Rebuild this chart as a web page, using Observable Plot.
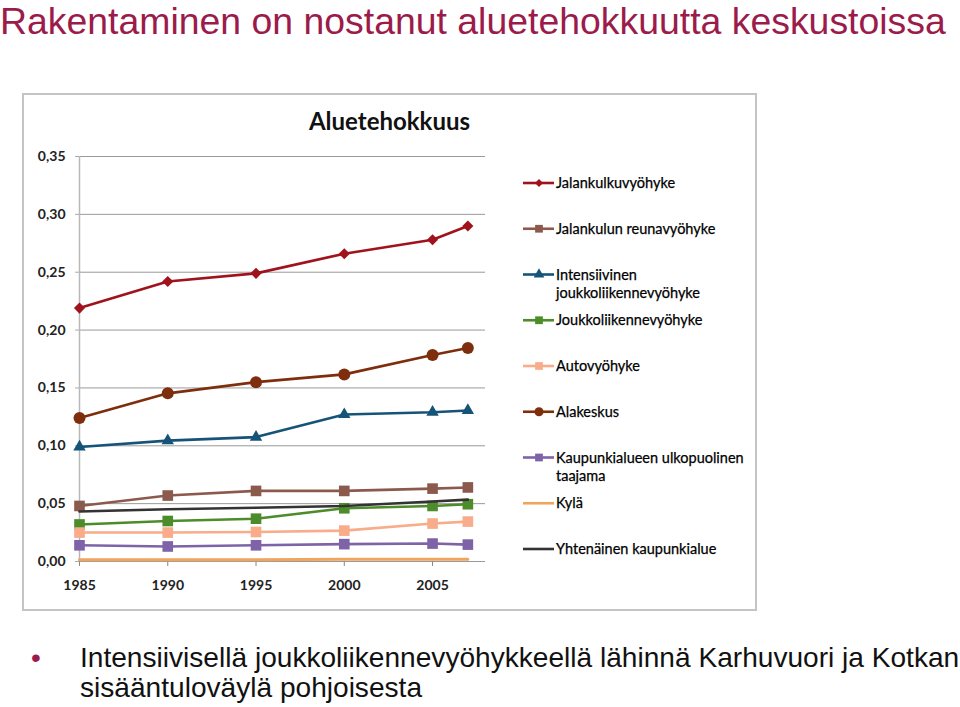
<!DOCTYPE html>
<html>
<head>
<meta charset="utf-8">
<script src="https://cdn.jsdelivr.net/npm/d3@7"></script>
<script src="https://cdn.jsdelivr.net/npm/@observablehq/plot@0.6"></script>
<style>
  body { margin: 0; background: #fff; }
  #page { position: relative; width: 960px; height: 707px; overflow: hidden; font-family: "Liberation Sans", Arial, sans-serif; }
  #box { position: absolute; left: 22px; top: 93px; width: 731px; height: 514px; border: 2px solid #c4c4c4; background: #fff; }
  #box svg { display: block; }
  #overlay { position: absolute; left: 0; top: 0; pointer-events: none; }
</style>
</head>
<body>
<div id="page">
  <div id="box"></div>
</div>
<script>
// ---- data ----
const years = [1985, 1990, 1995, 2000, 2005, 2007];
const jalankulkuvyohyke = [0.219, 0.242, 0.249, 0.266, 0.278, 0.290];
const jalankulunReunavyohyke = [0.048, 0.057, 0.061, 0.061, 0.063, 0.064];
const intensiivinenJoukkoliikenne = [0.099, 0.1045, 0.1075, 0.127, 0.129, 0.1305];
const joukkoliikennevyohyke = [0.032, 0.035, 0.037, 0.046, 0.048, 0.0495];
const autovyohyke = [0.025, 0.025, 0.0255, 0.0267, 0.0328, 0.0345];
const alakeskus = [0.124, 0.1453, 0.155, 0.1617, 0.1785, 0.1845];
const ulkopuolinenTaajama = [0.014, 0.013, 0.014, 0.015, 0.0155, 0.0146];
const kyla = [0.0015, 0.0015, 0.0015, 0.002, 0.002, 0.002];
const yhtenainenKaupunkialue = [0.0432, 0.0452, 0.0464, 0.048, 0.0518, 0.0535];

const seriesNames = [
  "Jalankulkuvyöhyke",
  "Jalankulun reunavyöhyke",
  "Intensiivinen joukkoliikennevyöhyke",
  "Joukkoliikennevyöhyke",
  "Autovyöhyke",
  "Alakeskus",
  "Kaupunkialueen ulkopuolinen taajama",
  "Kylä",
  "Yhtenäinen kaupunkialue"
];
const seriesValues = [
  jalankulkuvyohyke, jalankulunReunavyohyke, intensiivinenJoukkoliikenne,
  joukkoliikennevyohyke, autovyohyke, alakeskus, ulkopuolinenTaajama, kyla,
  yhtenainenKaupunkialue
];
const legendLines = [
  ["Jalankulkuvyöhyke"],
  ["Jalankulun reunavyöhyke"],
  ["Intensiivinen", "joukkoliikennevyöhyke"],
  ["Joukkoliikennevyöhyke"],
  ["Autovyöhyke"],
  ["Alakeskus"],
  ["Kaupunkialueen ulkopuolinen", "taajama"],
  ["Kylä"],
  ["Yhtenäinen kaupunkialue"]
];
const xTicks = [1985, 1990, 1995, 2000, 2005];
const yTicks = [0, 0.05, 0.10, 0.15, 0.20, 0.25, 0.30, 0.35];

const pageTitle = "Rakentaminen on nostanut aluetehokkuutta keskustoissa";
const chartTitle = "Aluetehokkuus";
const bulletLines = [
  "Intensiivisellä joukkoliikennevyöhykkeellä lähinnä Karhuvuori ja Kotkan",
  "sisääntuloväylä pohjoisesta"
];

// ---- styles per series ----
const styles = [
  {color: "#A0121C", symbol: "diamond2", r: 5.0, lsize: 40},
  {color: "#8C5A4C", symbol: "square",   r: 6.0, lsize: 60},
  {color: "#165379", symbol: "triangle", r: 4.6, lsize: 50},
  {color: "#4D8C2A", symbol: "square",   r: 6.0, lsize: 60},
  {color: "#F8AC8A", symbol: "square",   r: 6.0, lsize: 60},
  {color: "#7E2E0C", symbol: "circle",   r: 6.0, lsize: 64},
  {color: "#7E63A8", symbol: "square",   r: 6.0, lsize: 60},
  {color: "#F0A45C", symbol: null,       r: 0,   lsize: 0},
  {color: "#333333", symbol: null,       r: 0,   lsize: 0}
];

const rows = seriesNames.flatMap((name, i) =>
  years.map((year, j) => ({series: name, idx: i, year, value: seriesValues[i][j]})));

const fmt = d => d.toFixed(2).replace(".", ",");

const marks = [
  Plot.gridY(yTicks.slice(1), {stroke: "#9a9a9a", strokeOpacity: 1, strokeWidth: 1}),
  Plot.ruleX([1985], {stroke: "#b8b8b8", strokeWidth: 1.5}),
  Plot.ruleY([0], {stroke: "#9a9a9a", strokeWidth: 1.2}),
  Plot.axisY({ticks: yTicks, tickFormat: fmt, tickSize: 4, tickPadding: 10, stroke: "#aaa",
              fill: "#222", fontSize: 14, fontWeight: "bold", fontFamily: "Lato", label: null}),
  Plot.axisX({ticks: xTicks, tickFormat: d => String(d), tickSize: 5, tickPadding: 14, stroke: "#888",
              fill: "#222", fontSize: 14, fontWeight: "bold", fontFamily: "Lato", label: null})
];
seriesNames.forEach((name, i) => {
  const st = styles[i];
  const data = rows.filter(d => d.idx === i);
  marks.push(Plot.line(data, {x: "year", y: "value", stroke: st.color, strokeWidth: i === 7 ? 3 : 2.6}));
  if (st.symbol) {
    marks.push(Plot.dot(data, {x: "year", y: "value", fill: st.color, stroke: "none", symbol: st.symbol, r: st.r}));
  }
});

const chart = Plot.plot({
  width: 731,
  height: 514,
  marginLeft: 55,
  marginRight: 270,
  marginTop: 61,
  marginBottom: 48,
  x: {domain: [1985, 2008]},
  y: {domain: [0, 0.35]},
  style: {background: "transparent", overflow: "visible"},
  marks
});
document.getElementById("box").appendChild(chart);

// ---- overlay text: titles, legend, bullet text ----
const ov = d3.select("#page").append("svg").attr("id", "overlay")
  .attr("width", 960).attr("height", 707);

ov.append("text").attr("x", 0).attr("y", 34)
  .attr("font-family", "Liberation Sans, Arial, sans-serif").attr("font-size", 37.4)
  .attr("fill", "#9B1B4B").text(pageTitle);

ov.append("text").attr("x", 389.5).attr("y", 130).attr("text-anchor", "middle")
  .attr("font-family", "Lato").attr("font-weight", "bold").attr("font-size", 24)
  .attr("fill", "#111").text(chartTitle);

// legend
const symMap = {diamond2: d3.symbolDiamond2, square: d3.symbolSquare, triangle: d3.symbolTriangle, circle: d3.symbolCircle};
const legendTop = 183, legendStep = 45.75;
legendLines.forEach((lines, i) => {
  const cy = legendTop + i * legendStep;
  const st = styles[i];
  const g = ov.append("g");
  g.append("line").attr("x1", 523).attr("x2", 554).attr("y1", cy).attr("y2", cy)
    .attr("stroke", st.color).attr("stroke-width", 2.6);
  if (st.symbol) {
    g.append("path").attr("d", d3.symbol(symMap[st.symbol], st.lsize)())
      .attr("transform", `translate(539,${cy})`).attr("fill", st.color);
  }
  lines.forEach((t, k) => {
    g.append("text").attr("x", 556).attr("y", cy + 5 + k * 18.5)
      .attr("font-family", "Lato").attr("font-size", 14.5).attr("fill", "#000")
      .attr("stroke", "#000").attr("stroke-width", 0.25).text(t);
  });
});

// bullet text
ov.append("text").attr("x", 31).attr("y", 667)
  .attr("font-family", "Liberation Sans, Arial, sans-serif").attr("font-size", 28)
  .attr("fill", "#9B1B4B").text("•");
bulletLines.forEach((t, k) => {
  ov.append("text").attr("x", 80).attr("y", 667 + k * 30)
    .attr("font-family", "Liberation Sans, Arial, sans-serif").attr("font-size", 28.1)
    .attr("fill", "#111").text(t);
});
</script>
</body>
</html>
